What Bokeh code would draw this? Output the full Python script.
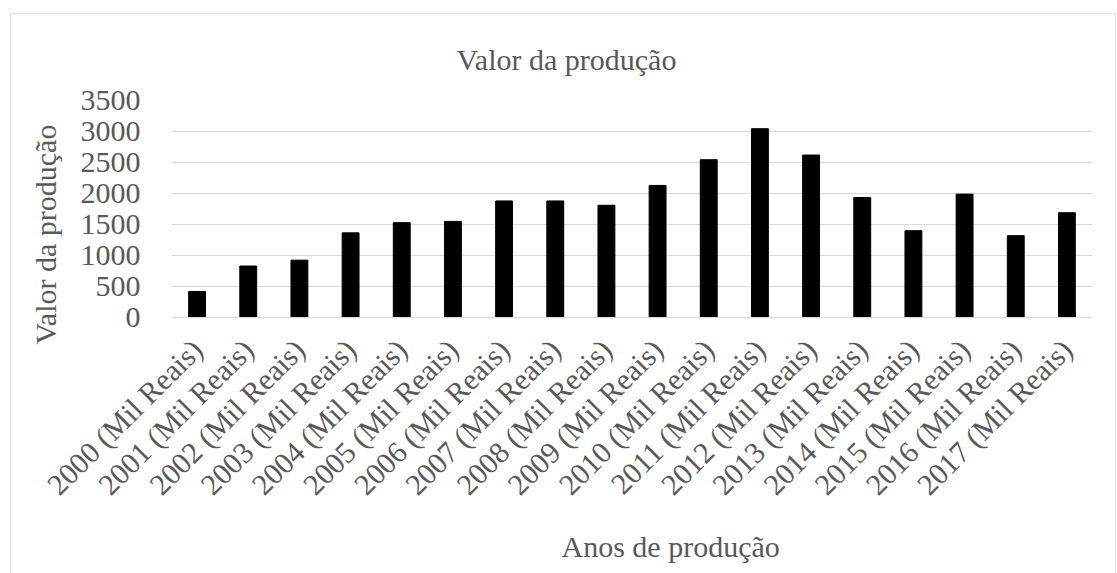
import math

from bokeh.embed import file_html
from bokeh.models import FactorRange, FixedTicker, Range1d, Title
from bokeh.plotting import figure
from bokeh.resources import INLINE

# Production value per year (thousand reais)
anos = [f"{ano} (Mil Reais)" for ano in range(2000, 2018)]
valores = [420, 830, 925, 1365, 1530, 1550, 1880, 1880, 1810,
           2130, 2545, 3045, 2620, 1935, 1400, 1990, 1320, 1690]
y_ticks = [0, 500, 1000, 1500, 2000, 2500, 3000, 3500]

FONT = "Liberation Serif"
SIZE = "30px"
TEXT = "#595959"
GRID = "#d9d9d9"

p = figure(
    width=1106, height=560,
    x_range=FactorRange(factors=anos),
    y_range=Range1d(0, 3500),
    output_backend="svg", toolbar_location=None,
    min_border_left=160, min_border_right=25,
    min_border_top=86, min_border_bottom=255,
)
p.margin = (13, 0, 0, 10)
p.styles = {"border-top": "1px solid #e3e3e3",
            "border-left": "1px solid #e3e3e3",
            "border-right": "1px solid #e3e3e3"}
p.outline_line_color = None

p.vbar(x=anos, top=valores, width=0.33, color="black")

# chart title
p.title.text = "Valor da produção"
p.title.text_font = FONT
p.title.text_font_size = SIZE
p.title.text_font_style = "normal"
p.title.text_color = TEXT
p.title.align = "left"
p.title.offset = 285
p.title.standoff = 49

# axis titles
p.add_layout(Title(text="Anos de produção", align="left", offset=390,
                   text_font=FONT, text_font_size=SIZE,
                   text_font_style="normal", text_color=TEXT,
                   standoff=24), "below")
p.add_layout(Title(text="Valor da produção", align="left", offset=-27,
                   text_font=FONT, text_font_size=SIZE,
                   text_font_style="normal", text_color=TEXT,
                   standoff=31), "left")

# y axis
p.yaxis.ticker = FixedTicker(ticks=y_ticks)
p.yaxis.axis_line_color = None
p.yaxis.major_tick_line_color = None
p.yaxis.minor_tick_line_color = None
p.yaxis.major_label_standoff = 25
p.yaxis.major_label_text_font = FONT
p.yaxis.major_label_text_font_size = SIZE
p.yaxis.major_label_text_color = TEXT

# x axis
p.xaxis.axis_line_color = GRID
p.xaxis.major_tick_line_color = None
p.xaxis.major_label_orientation = math.pi / 4
p.xaxis.major_label_standoff = 21
p.xaxis.major_label_text_font = FONT
p.xaxis.major_label_text_font_size = SIZE
p.xaxis.major_label_text_color = TEXT

p.xgrid.grid_line_color = None
p.ygrid.grid_line_color = GRID
p.ygrid.grid_line_width = 1

open("out.html", "w").write(file_html(p, INLINE))
